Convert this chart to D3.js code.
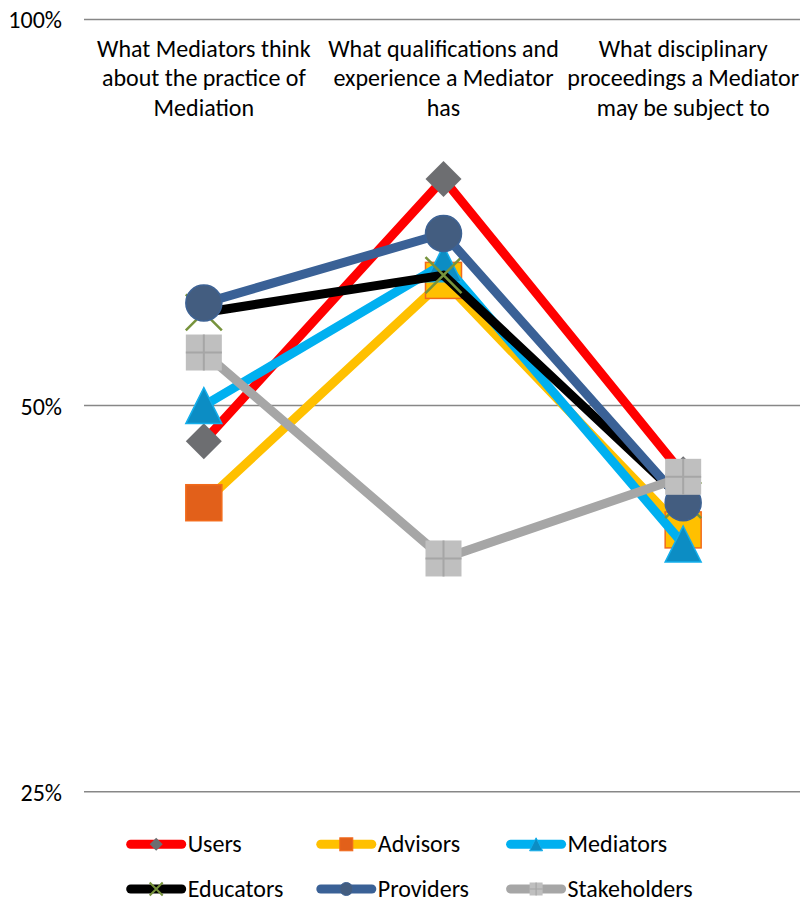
<!DOCTYPE html>
<html><head><meta charset="utf-8">
<script src="https://cdn.jsdelivr.net/npm/d3@7"></script>
<style>
html,body{margin:0;padding:0;background:#fff;}
svg{display:block;}
text{font-family:Carlito,Calibri,Lato,"Open Sans",sans-serif;fill:#000;}
</style></head>
<body>
<script>
// ---- data ----
const categories = [
  ["What Mediators think", "about the practice of", "Mediation"],
  ["What qualifications and", "experience a Mediator", "has"],
  ["What disciplinary", "proceedings a Mediator", "may be subject to"]
];
const seriesNames = ["Users", "Advisors", "Mediators", "Educators", "Providers", "Stakeholders"];
const users        = [46.9, 75.1, 44.2];
const advisors     = [42.0, 62.6, 40.0];
const mediators    = [50.0, 64.5, 39.0];
const educators    = [59.1, 63.2, 42.2];
const providers    = [60.1, 68.1, 42.0];
const stakeholders = [55.0, 38.0, 44.0];
const yTicks = [25, 50, 100];
const yTickLabels = ["25%", "50%", "100%"];

// ---- styles ----
const styles = {
  Users:        {line: "#FF0000", marker: "diamond", fill: "#6D6E71", stroke: "none"},
  Advisors:     {line: "#FFC000", marker: "square",  fill: "#E2601A", stroke: "#F26A1B"},
  Mediators:    {line: "#00B0F0", marker: "triangle", fill: "#0C8DC4", stroke: "#13AEEB"},
  Educators:    {line: "#000000", marker: "x",       fill: "none", stroke: "#77933C"},
  Providers:    {line: "#3A6196", marker: "circle",  fill: "#435D80", stroke: "#3D6294"},
  Stakeholders: {line: "#A6A6A6", marker: "plus",    fill: "#BFBFBF", stroke: "#A6A6A6"}
};
const seriesValues = [users, advisors, mediators, educators, providers, stakeholders];

const W = 800, H = 898;
const FS = 24;
const svg = d3.select("body").append("svg").attr("width", W).attr("height", H);

const x = d3.scaleBand().domain(d3.range(categories.length)).range([84, 803]);
const cx = i => x(i) + x.bandwidth() / 2;
const y = d3.scaleLog().base(2).domain([25, 100]).range([791.7, 19.5]);

// gridlines
svg.append("g").selectAll("line").data(yTicks).join("line")
  .attr("x1", 84).attr("x2", 800)
  .attr("y1", d => y(d)).attr("y2", d => y(d))
  .attr("stroke", "#878787").attr("stroke-width", 1.5);

// y axis labels
const yAxis = d3.axisLeft(y).tickValues(yTicks)
  .tickFormat((d, i) => yTickLabels[i]).tickSize(0).tickPadding(0);
const gy = svg.append("g").attr("transform", "translate(62,0)").call(yAxis);
gy.select(".domain").remove();
gy.selectAll("text").attr("font-size", FS).style("font-family", null).attr("dy", "0.35em");

// category labels
const cat = svg.append("g");
categories.forEach((lines, i) => {
  lines.forEach((ln, j) => {
    cat.append("text").attr("x", cx(i)).attr("y", 57 + j * 29.3)
      .attr("text-anchor", "middle").attr("font-size", FS).text(ln);
  });
});

// marker drawing
function drawMarker(g, type, px, py, s, fill, stroke, sw) {
  const h = s / 2;
  if (type === "diamond") {
    g.append("path").attr("d", `M${px},${py - h}L${px + h},${py}L${px},${py + h}L${px - h},${py}Z`)
      .attr("fill", fill);
  } else if (type === "square") {
    g.append("rect").attr("x", px - h).attr("y", py - h).attr("width", s).attr("height", s)
      .attr("fill", fill).attr("stroke", stroke).attr("stroke-width", sw);
  } else if (type === "triangle") {
    g.append("path").attr("d", `M${px},${py - h}L${px + h},${py + h}L${px - h},${py + h}Z`)
      .attr("fill", fill).attr("stroke", stroke).attr("stroke-width", sw);
  } else if (type === "x") {
    g.append("path").attr("d", `M${px - h},${py - h}L${px + h},${py + h}M${px + h},${py - h}L${px - h},${py + h}`)
      .attr("fill", "none").attr("stroke", stroke).attr("stroke-width", sw + 1);
  } else if (type === "circle") {
    g.append("circle").attr("cx", px).attr("cy", py).attr("r", h)
      .attr("fill", fill).attr("stroke", stroke).attr("stroke-width", sw);
  } else if (type === "plus") {
    g.append("rect").attr("x", px - h).attr("y", py - h).attr("width", s).attr("height", s)
      .attr("fill", fill);
    g.append("path").attr("d", `M${px},${py - h}V${py + h}M${px - h},${py}H${px + h}`)
      .attr("stroke", stroke).attr("stroke-width", s > 20 ? 2 : 1.2);
  }
}

const line = d3.line().x((d, i) => cx(i)).y(d => y(d));
const plot = svg.append("g");
seriesNames.forEach((name, si) => {
  const st = styles[name];
  const vals = seriesValues[si];
  const g = plot.append("g");
  g.append("path").datum(vals).attr("d", line)
    .attr("fill", "none").attr("stroke", st.line).attr("stroke-width", 9)
    .attr("stroke-linejoin", "round").attr("stroke-linecap", "round");
  vals.forEach((v, i) => {
    let fill = st.fill;
    if (name === "Advisors" && i > 0) fill = "#FFC000";
    drawMarker(g, st.marker, cx(i), y(v), 36, fill, st.stroke, 1.5);
  });
});

// legend
const legX = [126.7, 316.8, 506.6];
const legY = [844.3, 889];
const leg = svg.append("g");
seriesNames.forEach((name, i) => {
  const st = styles[name];
  const lx = legX[i % 3], ly = legY[Math.floor(i / 3)];
  const g = leg.append("g");
  g.append("line").attr("x1", lx + 4).attr("x2", lx + 55).attr("y1", ly).attr("y2", ly)
    .attr("stroke", st.line).attr("stroke-width", 9).attr("stroke-linecap", "round");
  drawMarker(g, st.marker, lx + 29.5, ly, 13, st.fill, st.stroke, 1);
  g.append("text").attr("x", lx + 61).attr("y", ly + 8).attr("font-size", FS).text(name);
});
</script>
</body></html>
